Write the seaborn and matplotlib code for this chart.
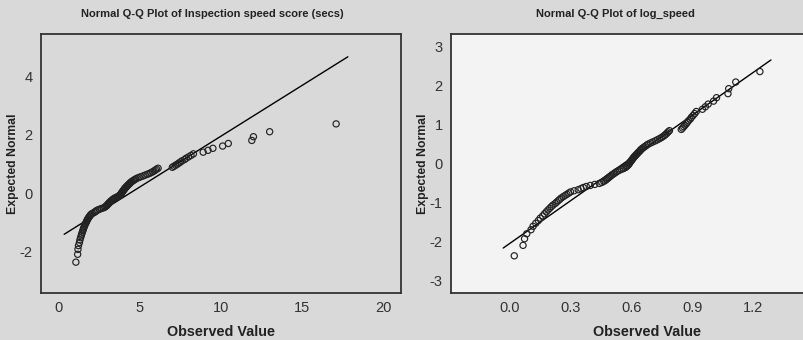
import matplotlib
matplotlib.use("Agg")
import math
import pandas as pd
import matplotlib.pyplot as plt
import seaborn as sns
from statistics import NormalDist

# Inspection speed scores (secs), sorted
speed = [
    1.05, 1.16, 1.18, 1.21, 1.27, 1.30, 1.34, 1.38, 1.41, 1.45,
    1.48, 1.51, 1.54, 1.57, 1.60, 1.63, 1.67, 1.70, 1.73, 1.76,
    1.79, 1.83, 1.87, 1.91, 1.95, 1.99, 2.07, 2.17, 2.24, 2.30,
    2.38, 2.49, 2.62, 2.76, 2.84, 2.90, 2.95, 2.99, 3.03, 3.07,
    3.11, 3.15, 3.19, 3.24, 3.29, 3.34, 3.39, 3.46, 3.54, 3.63,
    3.70, 3.75, 3.79, 3.83, 3.86, 3.88, 3.91, 3.94, 3.97, 4.00,
    4.03, 4.06, 4.09, 4.13, 4.17, 4.21, 4.25, 4.29, 4.34, 4.38,
    4.42, 4.47, 4.53, 4.60, 4.67, 4.74, 4.82, 4.94, 5.06, 5.20,
    5.32, 5.45, 5.57, 5.68, 5.78, 5.87, 5.95, 6.03, 6.12, 7.00,
    7.10, 7.20, 7.30, 7.40, 7.50, 7.60, 7.75, 7.85, 8.00, 8.15,
    8.30, 8.90, 9.20, 9.50, 10.10, 10.45, 11.90, 12.00, 13.00, 17.10,
]

titles = ["Normal Q-Q Plot of Inspection speed score (secs)", "Normal Q-Q Plot of log_speed"]
left_xticks = [0, 5, 10, 15, 20]
left_yticks = [-2, 0, 2, 4]
right_xticks = [0.0, 0.3, 0.6, 0.9, 1.2]
right_yticks = [-3, -2, -1, 0, 1, 2, 3]

BG = "#d9d9d9"
INK = "#222222"


def QQFrame(values):
    df = pd.DataFrame({"observed": values})
    ranks = df["observed"].rank(method="average")
    df["expected"] = [NormalDist().inv_cdf(r / (len(df) + 1)) for r in ranks]
    return df


def DrawQQ(ax, df, facecolor):
    ax.set_facecolor(facecolor)
    sns.scatterplot(data=df, x="observed", y="expected", ax=ax, marker="o",
                    s=20, facecolor="none", edgecolor=INK, linewidth=0.85, zorder=3)
    ax.collections[-1].set_facecolor("none")
    mean, sd = df["observed"].mean(), df["observed"].std()
    lo, hi = df["observed"].min(), df["observed"].max()
    pad = 0.045 * (hi - lo)
    line = pd.DataFrame({"x": [lo - pad, hi + pad]})
    line["y"] = (line["x"] - mean) / sd
    sns.lineplot(data=line, x="x", y="y", ax=ax, color="black", linewidth=1.0)
    ax.set_xlabel("Observed Value", fontsize=10.4, fontweight="bold", color=INK, labelpad=7)
    ax.set_ylabel("Expected Normal", fontsize=8.8, fontweight="bold", color=INK, labelpad=0.5)
    ax.tick_params(direction="out", length=4, width=1, color="#333333",
                   labelsize=10.5, labelcolor="#333333", pad=2)
    for sp in ax.spines.values():
        sp.set_color("#333333")
        sp.set_linewidth(1.3)
    ax.grid(False)


sns.set_style("white")
plt.rcParams["font.family"] = ["Liberation Sans", "DejaVu Sans"]

fig = plt.figure(figsize=(8.04, 3.40), dpi=100, facecolor=BG)

ax1 = fig.add_axes([41 / 804, 47 / 340, 360 / 804, 259 / 340])
DrawQQ(ax1, QQFrame(speed), BG)
ax1.set_xlim(-1.1, 21.1)
ax1.set_ylim(-3.42, 5.44)
ax1.set_xticks(left_xticks)
ax1.set_yticks(left_yticks)
ax1.set_xticklabels([str(t) for t in left_xticks])
ax1.set_yticklabels([str(t) for t in left_yticks])

log_speed = [math.log10(v) for v in speed]
ax2 = fig.add_axes([451 / 804, 47 / 340, 393 / 804, 259 / 340])
DrawQQ(ax2, QQFrame(log_speed), "#f3f3f3")
ax2.set_xlim(-0.291, 1.648)
ax2.set_ylim(-3.32, 3.33)
ax2.set_xticks(right_xticks)
ax2.set_yticks(right_yticks)
ax2.set_xticklabels([f"{t:.1f}" for t in right_xticks])
ax2.set_yticklabels([str(t) for t in right_yticks])

fig.text(212 / 804, 1 - 14 / 340, titles[0], ha="center", va="center",
         fontsize=8, fontweight="bold", color=INK)
fig.text(615 / 804, 1 - 14 / 340, titles[1], ha="center", va="center",
         fontsize=8, fontweight="bold", color=INK)

plt.savefig("out.png", dpi=100, facecolor=BG)
